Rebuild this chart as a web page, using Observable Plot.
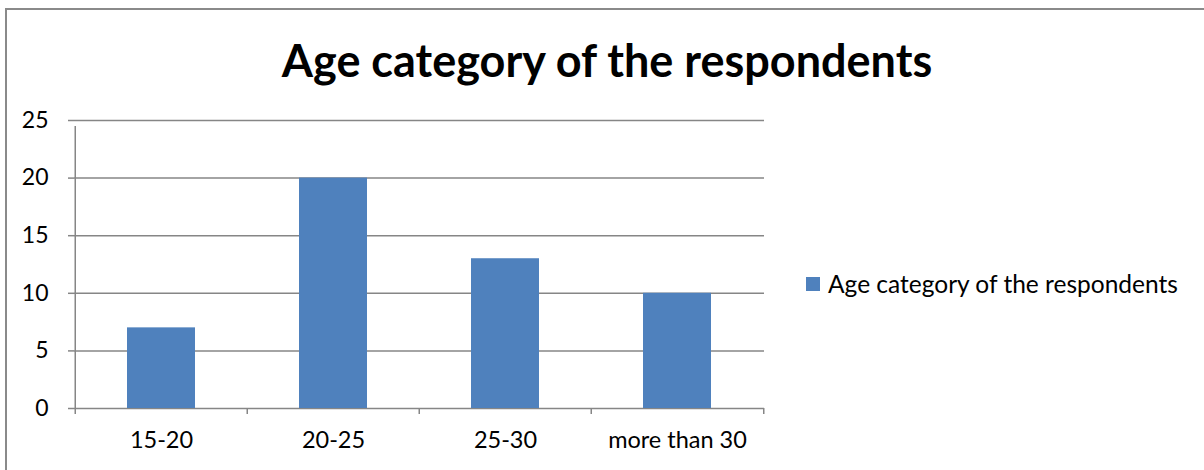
<!DOCTYPE html>
<html>
<head>
<meta charset="utf-8">
<script src="https://cdn.jsdelivr.net/npm/d3@7"></script>
<script src="https://cdn.jsdelivr.net/npm/@observablehq/plot@0.6"></script>
<style>
  html, body { margin: 0; padding: 0; background: #fff; }
  #wrap { position: relative; width: 1204px; height: 470px; overflow: hidden; font-family: Lato, "Open Sans", sans-serif; }
  #border { position: absolute; left: 5px; top: 8px; width: 1400px; height: 600px; border-left: 2px solid #8a8a8a; border-top: 2px solid #8a8a8a; }
  #title { position: absolute; left: 0; width: 1214px; top: 32px; text-align: center; font-weight: bold; font-size: 45px; line-height: 56px; color: #000; }
  #legend { position: absolute; left: 806px; top: 269px; font-size: 24.5px; line-height: 30px; color: #000; display: flex; align-items: center; }
  #legend .sw { width: 14px; height: 14px; margin-right: 8px; }
  #chart { position: absolute; left: 0; top: 0; }
</style>
</head>
<body>
<div id="wrap">
  <div id="border"></div>
  <div id="chart"></div>
  <div id="title"></div>
  <div id="legend"><span class="sw"></span><span class="lt"></span></div>
</div>
<script>
const titleText = "Age category of the respondents";
const seriesName = "Age category of the respondents";
const categories = ["15-20", "20-25", "25-30", "more than 30"];
const values = [7, 20, 13, 10];
const yTicks = [0, 5, 10, 15, 20, 25];
const barColor = "#4F81BD";
const gridColor = "#868686";

const data = categories.map((c, i) => ({category: c, value: values[i]}));

const W = 1204, H = 470;
const mLeft = 74, mRight = 440, mTop = 120, mBottom = 62;
const step = (W - mLeft - mRight) / categories.length;

const chart = Plot.plot({
  width: W,
  height: H,
  marginLeft: mLeft,
  marginRight: mRight,
  marginTop: mTop,
  marginBottom: mBottom,
  style: {fontFamily: "Lato, 'Open Sans', sans-serif", fontSize: "23px", color: "#000", background: "transparent"},
  x: {domain: categories, paddingInner: 0.606, paddingOuter: 0.303},
  y: {domain: [0, 25]},
  marks: [
    Plot.ruleY(yTicks, {stroke: gridColor, strokeWidth: 1.5}),
    Plot.barY(data, {x: "category", y: "value", fill: barColor}),
    Plot.axisY({ticks: yTicks, tickSize: 6, tickPadding: 20, stroke: gridColor, strokeWidth: 1.5, strokeOpacity: 1, label: null, fill: "#000", fontSize: 23}),
    Plot.axisX({tickSize: 0, tickPadding: 23, label: null, fill: "#000", fontSize: 23.5}),
    // category boundary tick marks and vertical axis line
    Plot.ruleX(categories, {x: d => d, dx: -step / 2, y1: 0, y2: 0, insetBottom: -6, stroke: gridColor, strokeWidth: 1.5}),
    Plot.ruleX(categories.slice(-1), {x: d => d, dx: step / 2, y1: 0, y2: 0, insetBottom: -6, stroke: gridColor, strokeWidth: 1.5}),
    Plot.ruleX(categories.slice(0, 1), {x: d => d, dx: -step / 2, y1: 0, y2: 25, insetBottom: -6, stroke: gridColor, strokeWidth: 1.5})
  ]
});
document.getElementById("chart").appendChild(chart);
document.getElementById("title").textContent = titleText;
document.querySelector("#legend .sw").style.background = barColor;
document.querySelector("#legend .lt").textContent = seriesName;
</script>
</body>
</html>
